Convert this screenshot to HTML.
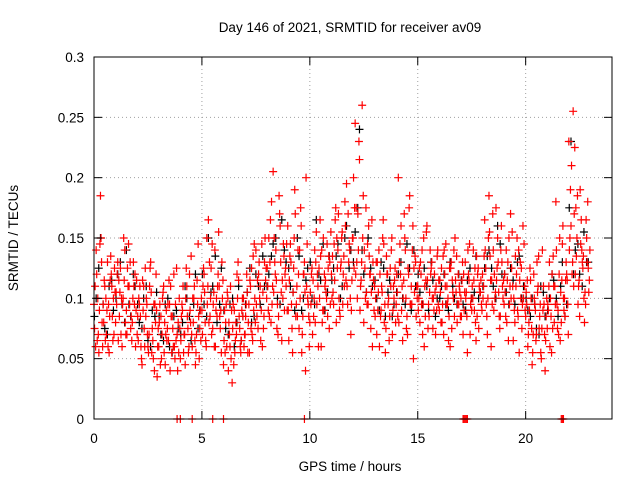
<!DOCTYPE html>
<html><head><meta charset="utf-8"><style>
html,body{margin:0;padding:0;background:#fff;}
svg{display:block;font-family:"Liberation Sans",sans-serif;}
</style></head><body>
<svg id="chart" width="640" height="480" viewBox="0 0 640 480">
<rect x="0" y="0" width="640" height="480" fill="#fff"/>
<text x="350" y="32" font-size="13.5" text-anchor="middle" fill="#000">Day 146 of 2021, SRMTID for receiver av09</text>
<text x="350" y="471" font-size="13.5" text-anchor="middle" fill="#000">GPS time / hours</text>
<text transform="translate(18,238) rotate(-90)" font-size="13.5" text-anchor="middle" fill="#000">SRMTID / TECUs</text>
<g id="grid"></g>
<g id="black"></g>
<g id="red"></g>
<g id="axes"></g>
</svg>
<script>
const xTicks=[0,5,10,15,20];
const yTicks=[0,0.05,0.1,0.15,0.2,0.25,0.3];
const yTickLabels=["0","0.05","0.1","0.15","0.2","0.25","0.3"];
const redA=[95,140,70,185,60,110,90,55,120,100,80,130,105,60,115,90,145,75,100,120,70,95,50,110,85,60,125,75,40,90,60,85,105,45,75,95,55,120,65,80,50,90,70,110,60,135,80,45,95,75,90,120,60,165,100,75,140,85,110,55,45,80,100,60,30,90,70,115,55,85,70,105,55,125,90,140,75,110,60,130,100,150,80,205,120,95,170,65,135,110,90,145,55,190,110,75,160,120,40,100,80,125,100,155,60,135,90,110,145,75,120,95,175,140,85,155,110,195,130,70,150,245,100,215,130,80,175,95,120,60,110,70,140,90,165,55,120,85,150,100,95,200,120,65,150,85,175,110,50,130,110,80,140,60,155,95,120,75,105,135,90,125,70,145,100,60,115,85,135,95,100,70,130,55,145,90,115,65,125,105,120,165,85,185,60,140,105,150,75,130,95,140,65,170,110,80,150,55,125,100,85,60,125,45,100,70,135,55,90,40,75,130,55,110,180,90,65,145,100,120,230,160,255,120,185,85,140,100,165,125];
const redB=[75,120,55,150,95,65,130,85,110,70,105,65,125,95,140,70,110,85,130,60,85,110,45,75,100,55,130,65,95,35,80,50,110,70,95,40,85,60,125,55,65,110,45,85,120,70,100,55,145,90,70,105,150,80,125,95,60,110,85,130,65,95,40,110,75,55,120,85,65,100,85,55,115,70,145,95,120,65,105,150,125,85,180,105,140,70,160,115,90,145,65,130,105,170,85,140,55,120,200,95,105,70,140,95,125,60,150,115,85,130,100,145,80,170,125,95,180,110,145,90,200,120,170,90,260,140,105,160,75,130,85,130,60,110,145,75,95,125,70,115,120,80,160,100,140,70,185,95,125,85,90,130,70,110,160,85,125,100,70,140,115,80,140,95,65,125,105,150,80,110,85,120,100,140,70,110,90,135,75,115,100,140,70,155,115,90,175,130,85,110,120,80,150,100,65,135,90,115,75,145,105,70,115,55,95,130,75,50,110,65,95,60,120,80,140,70,105,160,85,115,140,210,110,175,95,190,130,80,150,105];
const redC=[110,65,90,130,80,100,60,115,85,125,95,115,70,100,80,125,95,65,110,90,65,85,115,60,95,70,105,50,80,60,95,70,55,90,65,110,75,50,70,100,85,55,100,75,90,60,110,70,85,65,110,80,95,130,70,105,90,120,75,100,90,60,80,50,95,65,100,75,90,60,95,80,110,65,100,85,130,90,75,115,110,130,95,150,115,85,130,100,120,90,115,95,125,85,140,100,70,130,110,85,95,115,80,120,100,140,90,105,125,95,135,115,150,100,130,120,160,95,140,115,125,175,140,110,150,125,95,135,105,115,100,90,120,105,80,135,100,110,90,125,105,130,90,115,100,125,95,140,105,110,100,120,95,85,115,105,130,90,110,95,105,95,120,110,85,130,100,115,95,105,115,90,105,120,95,100,125,85,110,95,110,125,100,135,95,120,115,105,140,100,105,115,95,125,100,110,85,130,95,110,95,80,100,70,90,105,85,75,95,85,90,100,75,110,95,120,80,100,115,95,150,120,170,135,110,145,125,105,130,115];
const redD=[60,100,145,80,115,70,95,135,65,105,120,85,100,150,70,110,130,80,95,115,100,60,90,125,70,110,55,95,120,75,45,100,80,65,115,85,60,95,40,75,95,70,125,55,80,100,65,115,50,100,125,65,110,85,145,60,100,155,90,115,55,105,70,90,45,80,130,60,100,70,120,95,75,135,80,115,100,145,85,125,90,165,110,130,75,185,105,145,125,160,135,75,150,95,120,175,85,105,145,60,120,85,130,110,165,80,120,100,135,155,105,165,125,90,150,135,115,170,100,150,175,130,230,115,185,100,145,120,165,90,130,105,85,150,95,120,65,140,110,80,85,145,110,170,75,120,95,160,135,100,125,95,150,115,75,140,100,120,90,115,80,135,110,95,125,75,140,105,120,85,130,105,85,115,100,140,80,120,105,90,135,95,150,115,170,100,125,85,160,115,85,130,110,155,90,120,140,100,160,90,115,90,75,120,65,110,95,140,70,100,110,85,135,95,75,150,115,90,130,70,190,130,225,150,115,165,135,95,180,140];
const blackVals=[100,150,75,110,90,120,95,140,85,110,80,100,65,90,105,70,95,60,85,75,80,100,65,120,90,95,150,110,80,125,75,95,60,110,85,105,80,120,95,110,120,145,100,165,130,110,90,135,100,125,100,165,115,90,135,125,145,110,160,140,155,240,120,150,110,100,130,85,115,95,120,100,145,90,110,105,125,90,115,100,110,95,130,100,120,95,115,100,135,105,125,140,110,160,120,105,125,95,135,110,90,100,75,110,85,100,115,85,130,95,230,140,120,155,130];
const blackVals2=[85,125,95,70,115,100,130,80,95,120,95,75,110,60,85,85,65,100,55,90,70,110,85,95,75,120,85,105,135,95,90,70,100,80,65,95,125,85,110,135,110,135,150,95,140,125,105,150,90,115,130,95,120,145,105,115,135,100,150,125,130,175,140,105,125,115,90,125,105,85,105,130,95,125,140,120,95,110,130,85,100,120,90,110,95,115,90,125,105,100,110,135,125,100,145,120,95,115,130,100,100,85,95,70,105,90,120,100,110,85,175,120,145,110,130];
const zeroTimes=[3.85,4.0,4.55,5.5,6.0,9.75,17.1,17.15,17.2,17.25,17.3,21.65,21.7,21.75];

const L=94,R=612,T=57,B=419;
const xs=h=>L+h*(R-L)/24;
const ys=v=>B-v*(B-T)/0.3;
const NS="http://www.w3.org/2000/svg";
function mk(tag,attrs,parent){const e=document.createElementNS(NS,tag);for(const k in attrs)e.setAttribute(k,attrs[k]);parent.appendChild(e);return e;}
const grid=document.getElementById('grid'),axes=document.getElementById('axes');
yTicks.forEach((v,i)=>{
  const y=ys(v);
  if(i>0&&i<yTicks.length-1){const g=mk('line',{x1:L,x2:R,y1:y,y2:y,stroke:'#a0a0a0','stroke-width':1,'stroke-dasharray':'1,3'},grid);
  
  }
  mk('line',{x1:L,x2:L+8,y1:y,y2:y,stroke:'#000'},axes);
  mk('line',{x1:R,x2:R-8,y1:y,y2:y,stroke:'#000'},axes);
  const t=mk('text',{x:L-10,y:y+5,'font-size':13.5,'text-anchor':'end',fill:'#000'},axes);t.textContent=yTickLabels[i];
  
  
});
xTicks.forEach(h=>{
  const x=xs(h);
  if(h>0){const g=mk('line',{x1:x,x2:x,y1:T,y2:B,stroke:'#a0a0a0','stroke-width':1,'stroke-dasharray':'1,3'},grid);
  
  }
  mk('line',{x1:x,x2:x,y1:B,y2:B-8,stroke:'#000'},axes);
  mk('line',{x1:x,x2:x,y1:T,y2:T+8,stroke:'#000'},axes);
  const t=mk('text',{x:x,y:B+24,'font-size':13.5,'text-anchor':'middle',fill:'#000'},axes);t.textContent=String(h);
  
  
});
const fr=mk('rect',{x:L,y:T,width:R-L,height:B-T,fill:'none',stroke:'#000','stroke-width':1},axes);


function plus(g,h,v,color){
  const x=xs(h),y=ys(v);
  const p=mk('path',{d:`M${x-4},${y}h8M${x},${y-4}v8`,stroke:color,'stroke-width':1.2,fill:'none'},g);
  
  
}
const bg=document.getElementById('black'),rg=document.getElementById('red');
blackVals.forEach((v,i)=>plus(bg,i*0.2+0.1,v/1000,'#000'));
blackVals2.forEach((v,i)=>plus(bg,i*0.2+0.02,v/1000,'#000'));
redA.forEach((v,i)=>plus(rg,i*0.1,v/1000,'#f00'));
redB.forEach((v,i)=>plus(rg,i*0.1+0.025,v/1000,'#f00'));
redC.forEach((v,i)=>plus(rg,i*0.1+0.05,v/1000,'#f00'));
redD.forEach((v,i)=>plus(rg,i*0.1+0.075,v/1000,'#f00'));
zeroTimes.forEach(h=>plus(rg,h,0,'#f00'));
</script>
</body></html>
